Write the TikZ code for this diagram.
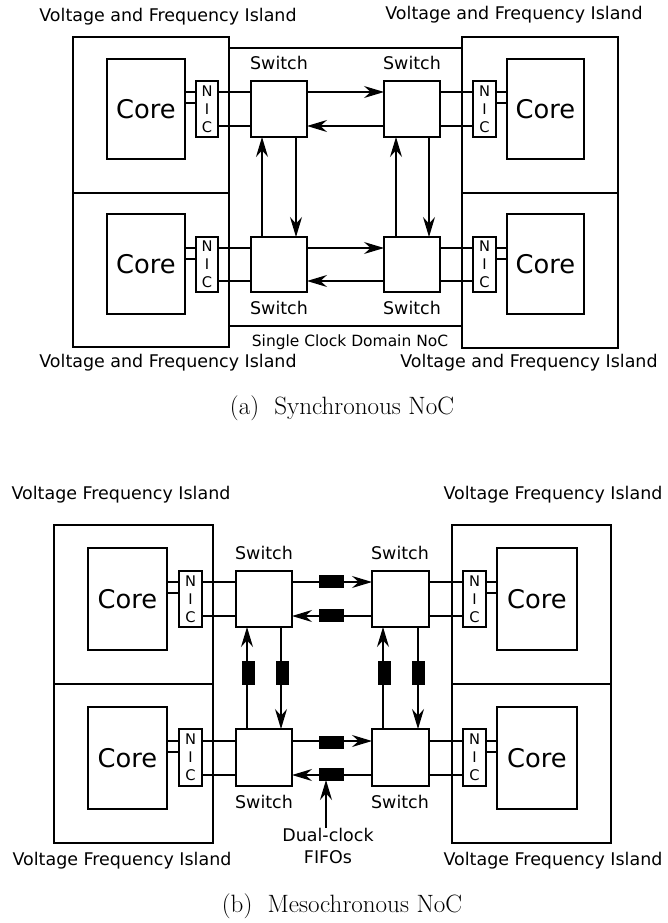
\documentclass[tikz,border=0pt]{standalone}
\usepackage{fontspec}
\newfontfamily\dv{DejaVu Sans}
\usetikzlibrary{arrows.meta}
\begin{document}
\begin{tikzpicture}[x=0.75pt,y=-0.75pt,
  sz/.style 2 args={minimum width=#1*0.75pt, minimum height=#2*0.75pt},
  island/.style={draw, line width=1pt, inner sep=0pt, outer sep=0pt},
  core/.style={draw, line width=1pt, inner sep=0pt, outer sep=0pt, font=\dv\fontsize{19.3}{22}\selectfont},
  nic/.style={draw, line width=0.9pt, inner sep=0pt, outer sep=0pt, align=center, font=\dv\fontsize{11}{13.6}\selectfont},
  switchbox/.style={draw, line width=1.1pt, inner sep=0pt, outer sep=0pt},
  fifo/.style={fill=black, draw=black, line width=0.5pt, inner sep=0pt, outer sep=0pt},
  lbl/.style={inner sep=0pt, font=\dv\fontsize{13.1}{17}\selectfont, align=center},
  small/.style={inner sep=0pt, font=\dv\fontsize{11.6}{14}\selectfont},
  captext/.style={inner sep=0pt, font=\fontsize{18.8}{22}\selectfont},
  wire/.style={line width=1.5pt},
  arr/.style={line width=0.9pt, -{Stealth[length=15pt, width=9pt, inset=5pt]}}
]
\useasboundingbox[fill=white] (0,0) rectangle (667,923);

% ================= (a) Synchronous NoC =================
\node[island, sz={156}{156}] (aITL) at (151,115) {};
\node[island, sz={156}{154}] (aIBL) at (151,270) {};
\node[island, sz={156}{156}] (aITR) at (540,115) {};
\node[island, sz={156}{155}] (aIBR) at (540,270.5) {};
\node[island, sz={233}{278}] (aNoC) at (345.5,187) {};

\node[core, sz={78}{100}] (aCTL) at (146,109) {Core};
\node[core, sz={78}{100}] (aCBL) at (146,264) {Core};
\node[core, sz={77}{100}] (aCTR) at (545.5,109) {Core};
\node[core, sz={77}{100}] (aCBR) at (545.5,264) {Core};

\node[nic, sz={22}{56}] (aNTL) at (207,109) {N\\I\\C};
\node[nic, sz={22}{55}] (aNBL) at (207,264.5) {N\\I\\C};
\node[nic, sz={23}{56}] (aNTR) at (484.5,109) {N\\I\\C};
\node[nic, sz={23}{55}] (aNBR) at (484.5,264.5) {N\\I\\C};

\node[switchbox, sz={56}{56}] (aSTL) at (279,109) {};
\node[switchbox, sz={56}{56}] (aSTR) at (412,109) {};
\node[switchbox, sz={56}{55}] (aSBL) at (279,264.5) {};
\node[switchbox, sz={56}{55}] (aSBR) at (412,264.5) {};

% core - NIC
\draw[wire] (aCTL.east |- 0,92) -- (aNTL.west |- 0,92);
\draw[wire] (aCTL.east |- 0,103) -- (aNTL.west |- 0,103);
\draw[wire] (aCBL.east |- 0,248) -- (aNBL.west |- 0,248);
\draw[wire] (aCBL.east |- 0,259) -- (aNBL.west |- 0,259);
\draw[wire] (aCTR.west |- 0,92) -- (aNTR.east |- 0,92);
\draw[wire] (aCTR.west |- 0,103) -- (aNTR.east |- 0,103);
\draw[wire] (aCBR.west |- 0,248) -- (aNBR.east |- 0,248);
\draw[wire] (aCBR.west |- 0,259) -- (aNBR.east |- 0,259);
% NIC - switch
\draw[wire] (aNTL.east |- 0,92) -- (aSTL.west |- 0,92);
\draw[wire] (aNTL.east |- 0,126) -- (aSTL.west |- 0,126);
\draw[wire] (aNBL.east |- 0,248) -- (aSBL.west |- 0,248);
\draw[wire] (aNBL.east |- 0,281) -- (aSBL.west |- 0,281);
\draw[wire] (aNTR.west |- 0,92) -- (aSTR.east |- 0,92);
\draw[wire] (aNTR.west |- 0,126) -- (aSTR.east |- 0,126);
\draw[wire] (aNBR.west |- 0,248) -- (aSBR.east |- 0,248);
\draw[wire] (aNBR.west |- 0,281) -- (aSBR.east |- 0,281);
% switch - switch
\draw[arr] (aSTL.east |- 0,92) -- (aSTR.west |- 0,92);
\draw[arr] (aSTR.west |- 0,126) -- (aSTL.east |- 0,126);
\draw[arr] (aSBL.east |- 0,248) -- (aSBR.west |- 0,248);
\draw[arr] (aSBR.west |- 0,281) -- (aSBL.east |- 0,281);
\draw[arr] (aSBL.north -| 262,0) -- (aSTL.south -| 262,0);
\draw[arr] (aSTL.south -| 296,0) -- (aSBL.north -| 296,0);
\draw[arr] (aSBR.north -| 396,0) -- (aSTR.south -| 396,0);
\draw[arr] (aSTR.south -| 429,0) -- (aSBR.north -| 429,0);

\node[lbl] (aW1) at (279,63) {Switch};
\node[lbl] (aW2) at (412,63) {Switch};
\node[lbl] (aW3) at (279,308) {Switch};
\node[lbl] (aW4) at (412,308) {Switch};

\node[lbl] (aL1) at (168,17) {Voltage and Frequency Island};
\node[lbl] (aL2) at (514,15) {Voltage and Frequency Island};
\node[lbl] (aL3) at (168,363) {Voltage and Frequency Island};
\node[lbl] (aL4) at (529,363) {Voltage and Frequency Island};
\node[small] (aNoCl) at (350,342) {Single Clock Domain NoC};

\node[captext] (capA) at (342,408) {(a)\ \ Synchronous NoC};

% ================= (b) Mesochronous NoC =================
\node[island, sz={159}{159}] (bITL) at (133.5,604.5) {};
\node[island, sz={159}{159}] (bIBL) at (133.5,763.5) {};
\node[island, sz={159}{159}] (bITR) at (531.5,604.5) {};
\node[island, sz={159}{159}] (bIBR) at (531.5,763.5) {};

\node[core, sz={79}{102}] (bCTL) at (127.5,599) {Core};
\node[core, sz={79}{102}] (bCBL) at (127.5,758) {Core};
\node[core, sz={80}{102}] (bCTR) at (537,599) {Core};
\node[core, sz={80}{102}] (bCBR) at (537,758) {Core};

\node[nic, sz={23}{56}] (bNTL) at (190.5,599) {N\\I\\C};
\node[nic, sz={23}{57}] (bNBL) at (190.5,757.5) {N\\I\\C};
\node[nic, sz={23}{56}] (bNTR) at (474.5,599) {N\\I\\C};
\node[nic, sz={23}{57}] (bNBR) at (474.5,757.5) {N\\I\\C};

\node[switchbox, sz={56}{56}] (bSTL) at (264,599) {};
\node[switchbox, sz={57}{56}] (bSTR) at (400.5,599) {};
\node[switchbox, sz={56}{57}] (bSBL) at (264,757.5) {};
\node[switchbox, sz={57}{57}] (bSBR) at (400.5,757.5) {};

% core - NIC
\draw[wire] (bCTL.east |- 0,582) -- (bNTL.west |- 0,582);
\draw[wire] (bCTL.east |- 0,593) -- (bNTL.west |- 0,593);
\draw[wire] (bCBL.east |- 0,741) -- (bNBL.west |- 0,741);
\draw[wire] (bCBL.east |- 0,752) -- (bNBL.west |- 0,752);
\draw[wire] (bCTR.west |- 0,582) -- (bNTR.east |- 0,582);
\draw[wire] (bCTR.west |- 0,593) -- (bNTR.east |- 0,593);
\draw[wire] (bCBR.west |- 0,741) -- (bNBR.east |- 0,741);
\draw[wire] (bCBR.west |- 0,752) -- (bNBR.east |- 0,752);
% NIC - switch
\draw[wire] (bNTL.east |- 0,582) -- (bSTL.west |- 0,582);
\draw[wire] (bNTL.east |- 0,616) -- (bSTL.west |- 0,616);
\draw[wire] (bNBL.east |- 0,741) -- (bSBL.west |- 0,741);
\draw[wire] (bNBL.east |- 0,775) -- (bSBL.west |- 0,775);
\draw[wire] (bNTR.west |- 0,582) -- (bSTR.east |- 0,582);
\draw[wire] (bNTR.west |- 0,616) -- (bSTR.east |- 0,616);
\draw[wire] (bNBR.west |- 0,741) -- (bSBR.east |- 0,741);
\draw[wire] (bNBR.west |- 0,775) -- (bSBR.east |- 0,775);
% switch - switch
\draw[arr] (bSTL.east |- 0,582) -- (bSTR.west |- 0,582);
\draw[arr] (bSTR.west |- 0,616) -- (bSTL.east |- 0,616);
\draw[arr] (bSBL.east |- 0,741) -- (bSBR.west |- 0,741);
\draw[arr] (bSBR.west |- 0,775) -- (bSBL.east |- 0,775);
\draw[arr] (bSBL.north -| 247,0) -- (bSTL.south -| 247,0);
\draw[arr] (bSTL.south -| 281,0) -- (bSBL.north -| 281,0);
\draw[arr] (bSBR.north -| 383,0) -- (bSTR.south -| 383,0);
\draw[arr] (bSTR.south -| 418,0) -- (bSBR.north -| 418,0);

% dual-clock FIFOs
\node[fifo, sz={24}{12}] (bF1) at (331,581) {};
\node[fifo, sz={24}{12}] (bF2) at (331,615) {};
\node[fifo, sz={24}{12}] (bF3) at (331,742) {};
\node[fifo, sz={24}{12}] (bF4) at (331,774) {};
\node[fifo, sz={12}{23}] (bF5) at (248,672.5) {};
\node[fifo, sz={12}{23}] (bF6) at (282,672.5) {};
\node[fifo, sz={12}{23}] (bF7) at (384,672.5) {};
\node[fifo, sz={12}{23}] (bF8) at (418,672.5) {};

\node[lbl] (bW1) at (264,553) {Switch};
\node[lbl] (bW2) at (400,553) {Switch};
\node[lbl] (bW3) at (264,802) {Switch};
\node[lbl] (bW4) at (400,802) {Switch};

\node[lbl] (bDC) at (328,846) {Dual-clock\\FIFOs};
\draw[arr] (bDC.north -| 326,0) -- (bF4.south -| 326,0);

\node[lbl] (bL1) at (121,495) {Voltage Frequency Island};
\node[lbl] (bL2) at (553,495) {Voltage Frequency Island};
\node[lbl] (bL3) at (122,861) {Voltage Frequency Island};
\node[lbl] (bL4) at (553,861) {Voltage Frequency Island};

\node[captext] (capB) at (342,906) {(b)\ \ Mesochronous NoC};
\end{tikzpicture}
\end{document}
